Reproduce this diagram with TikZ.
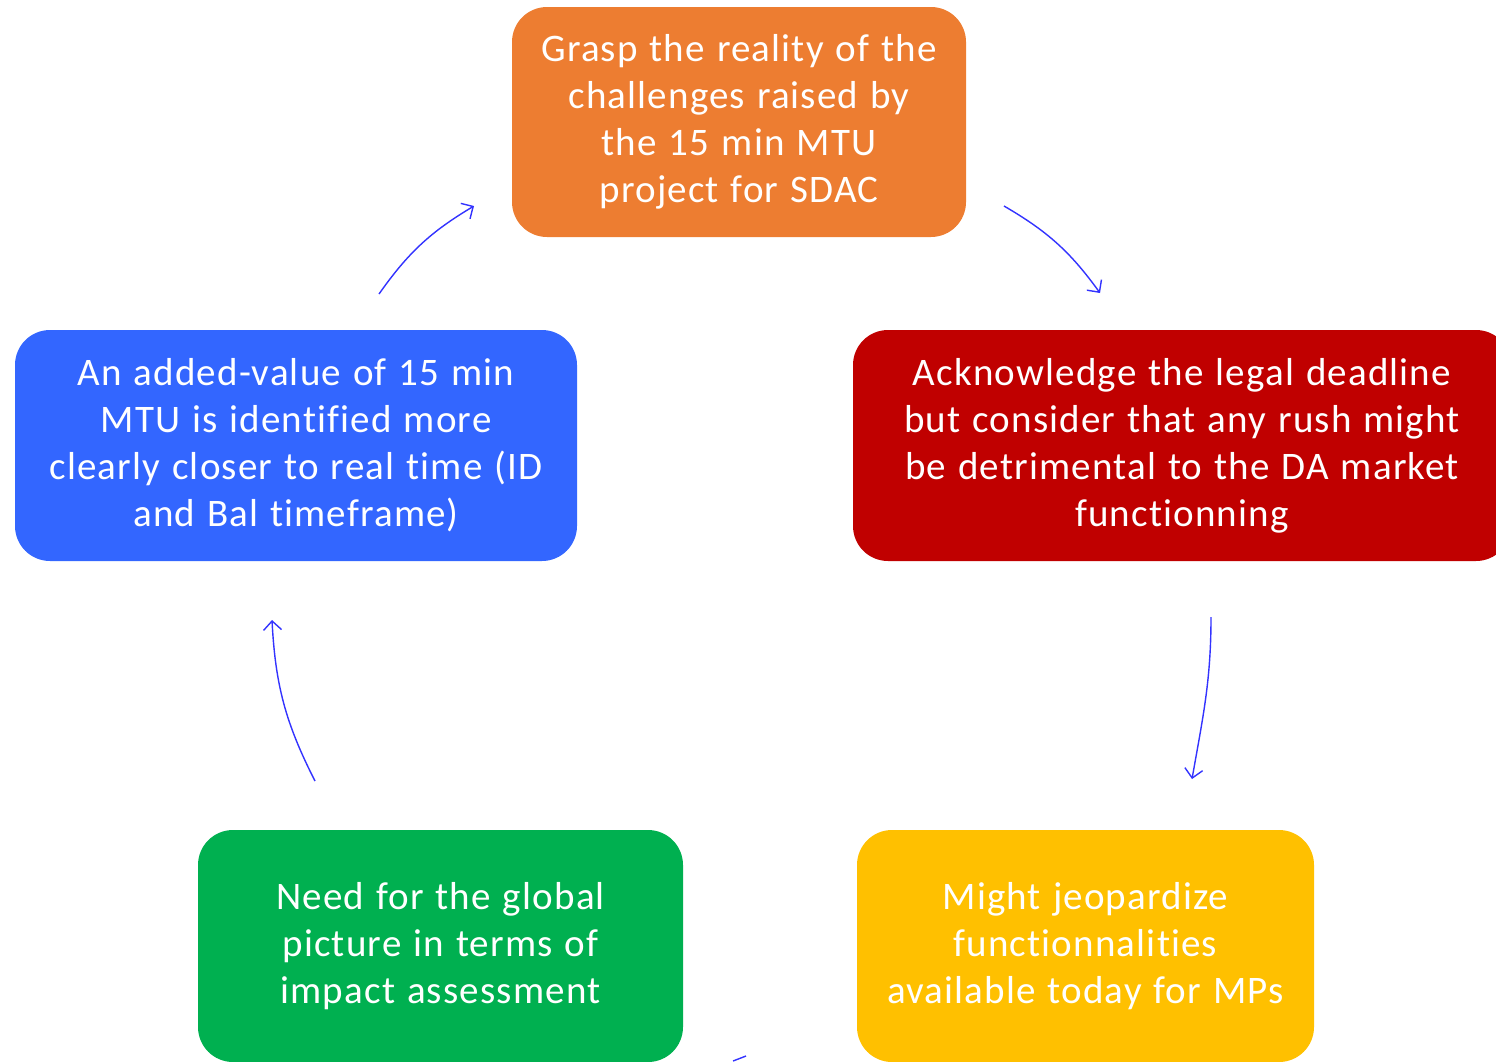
\documentclass[tikz,border=0pt]{standalone}
\usepackage{fontspec}
\setmainfont{Carlito}[Ligatures=NoCommon, LetterSpace=3, WordSpace=1.2]
\usetikzlibrary{arrows.meta}
\definecolor{corange}{HTML}{ED7D31}
\definecolor{cred}{HTML}{C00000}
\definecolor{cblue}{HTML}{3366FF}
\definecolor{cgreen}{HTML}{00B050}
\definecolor{cyellow}{HTML}{FFC000}
\definecolor{carrow}{HTML}{3333FF}
\begin{document}
\begin{tikzpicture}[x=1pt,y=-1pt,
  box/.style={rectangle, rounded corners=35pt, inner sep=0pt, align=center,
    text=white, font=\fontsize{39}{47}\selectfont},
  flow/.style={draw=carrow, line width=1.4pt, -{Straight Barb[length=9pt,width=18pt,line width=1.4pt]}},
  part/.style={draw=carrow, line width=1.4pt}]
\useasboundingbox (0,0) rectangle (1496,1061);
\clip (0,0) rectangle (1496,1061);
\node[box, fill=corange, minimum width=454pt, minimum height=230pt] (orange) at (739,122)
  {Grasp the reality of the\\challenges raised by\\the 15 min MTU\\project for SDAC};
\node[box, fill=cred, minimum width=658pt, minimum height=231pt] (red) at (1182,445.5)
  {Acknowledge the legal deadline\\but consider that any rush might\\be detrimental to the DA market\\functionning};
\node[box, fill=cblue, minimum width=562pt, minimum height=231pt] (blue) at (296,445.5)
  {An added-value of 15 min\\MTU is identified more\\clearly closer to real time (ID\\and Bal timeframe)};
\node[box, fill=cgreen, minimum width=485pt, minimum height=232pt] (green) at (440.5,946)
  {Need for the global\\picture in terms of\\impact assessment};
\node[box, fill=cyellow, minimum width=457pt, minimum height=232pt] (yellow) at (1085.5,946)
  {Might jeopardize\\functionnalities\\available today for MPs};
\coordinate (a1s) at (1004,206);
\coordinate (a1e) at (1100,293);
\coordinate (a2s) at (1211,617);
\coordinate (a2e) at (1192,779);
\coordinate (a3s) at (315,781);
\coordinate (a3e) at (272,620);
\coordinate (a4s) at (379,294);
\coordinate (a4e) at (474,206);
\coordinate (a5s) at (733,1061);
\coordinate (a5e) at (746,1056);
\draw[flow] (a1s) to[bend left=12] (a1e);
\draw[flow] (a2s) to[out=-90, in=80] (a2e);
\draw[flow] (a3s) to[bend left=12] (a3e);
\draw[flow] (a4s) to[bend left=12] (a4e);
\draw[part] (a5s) -- (a5e);
\end{tikzpicture}
\end{document}
